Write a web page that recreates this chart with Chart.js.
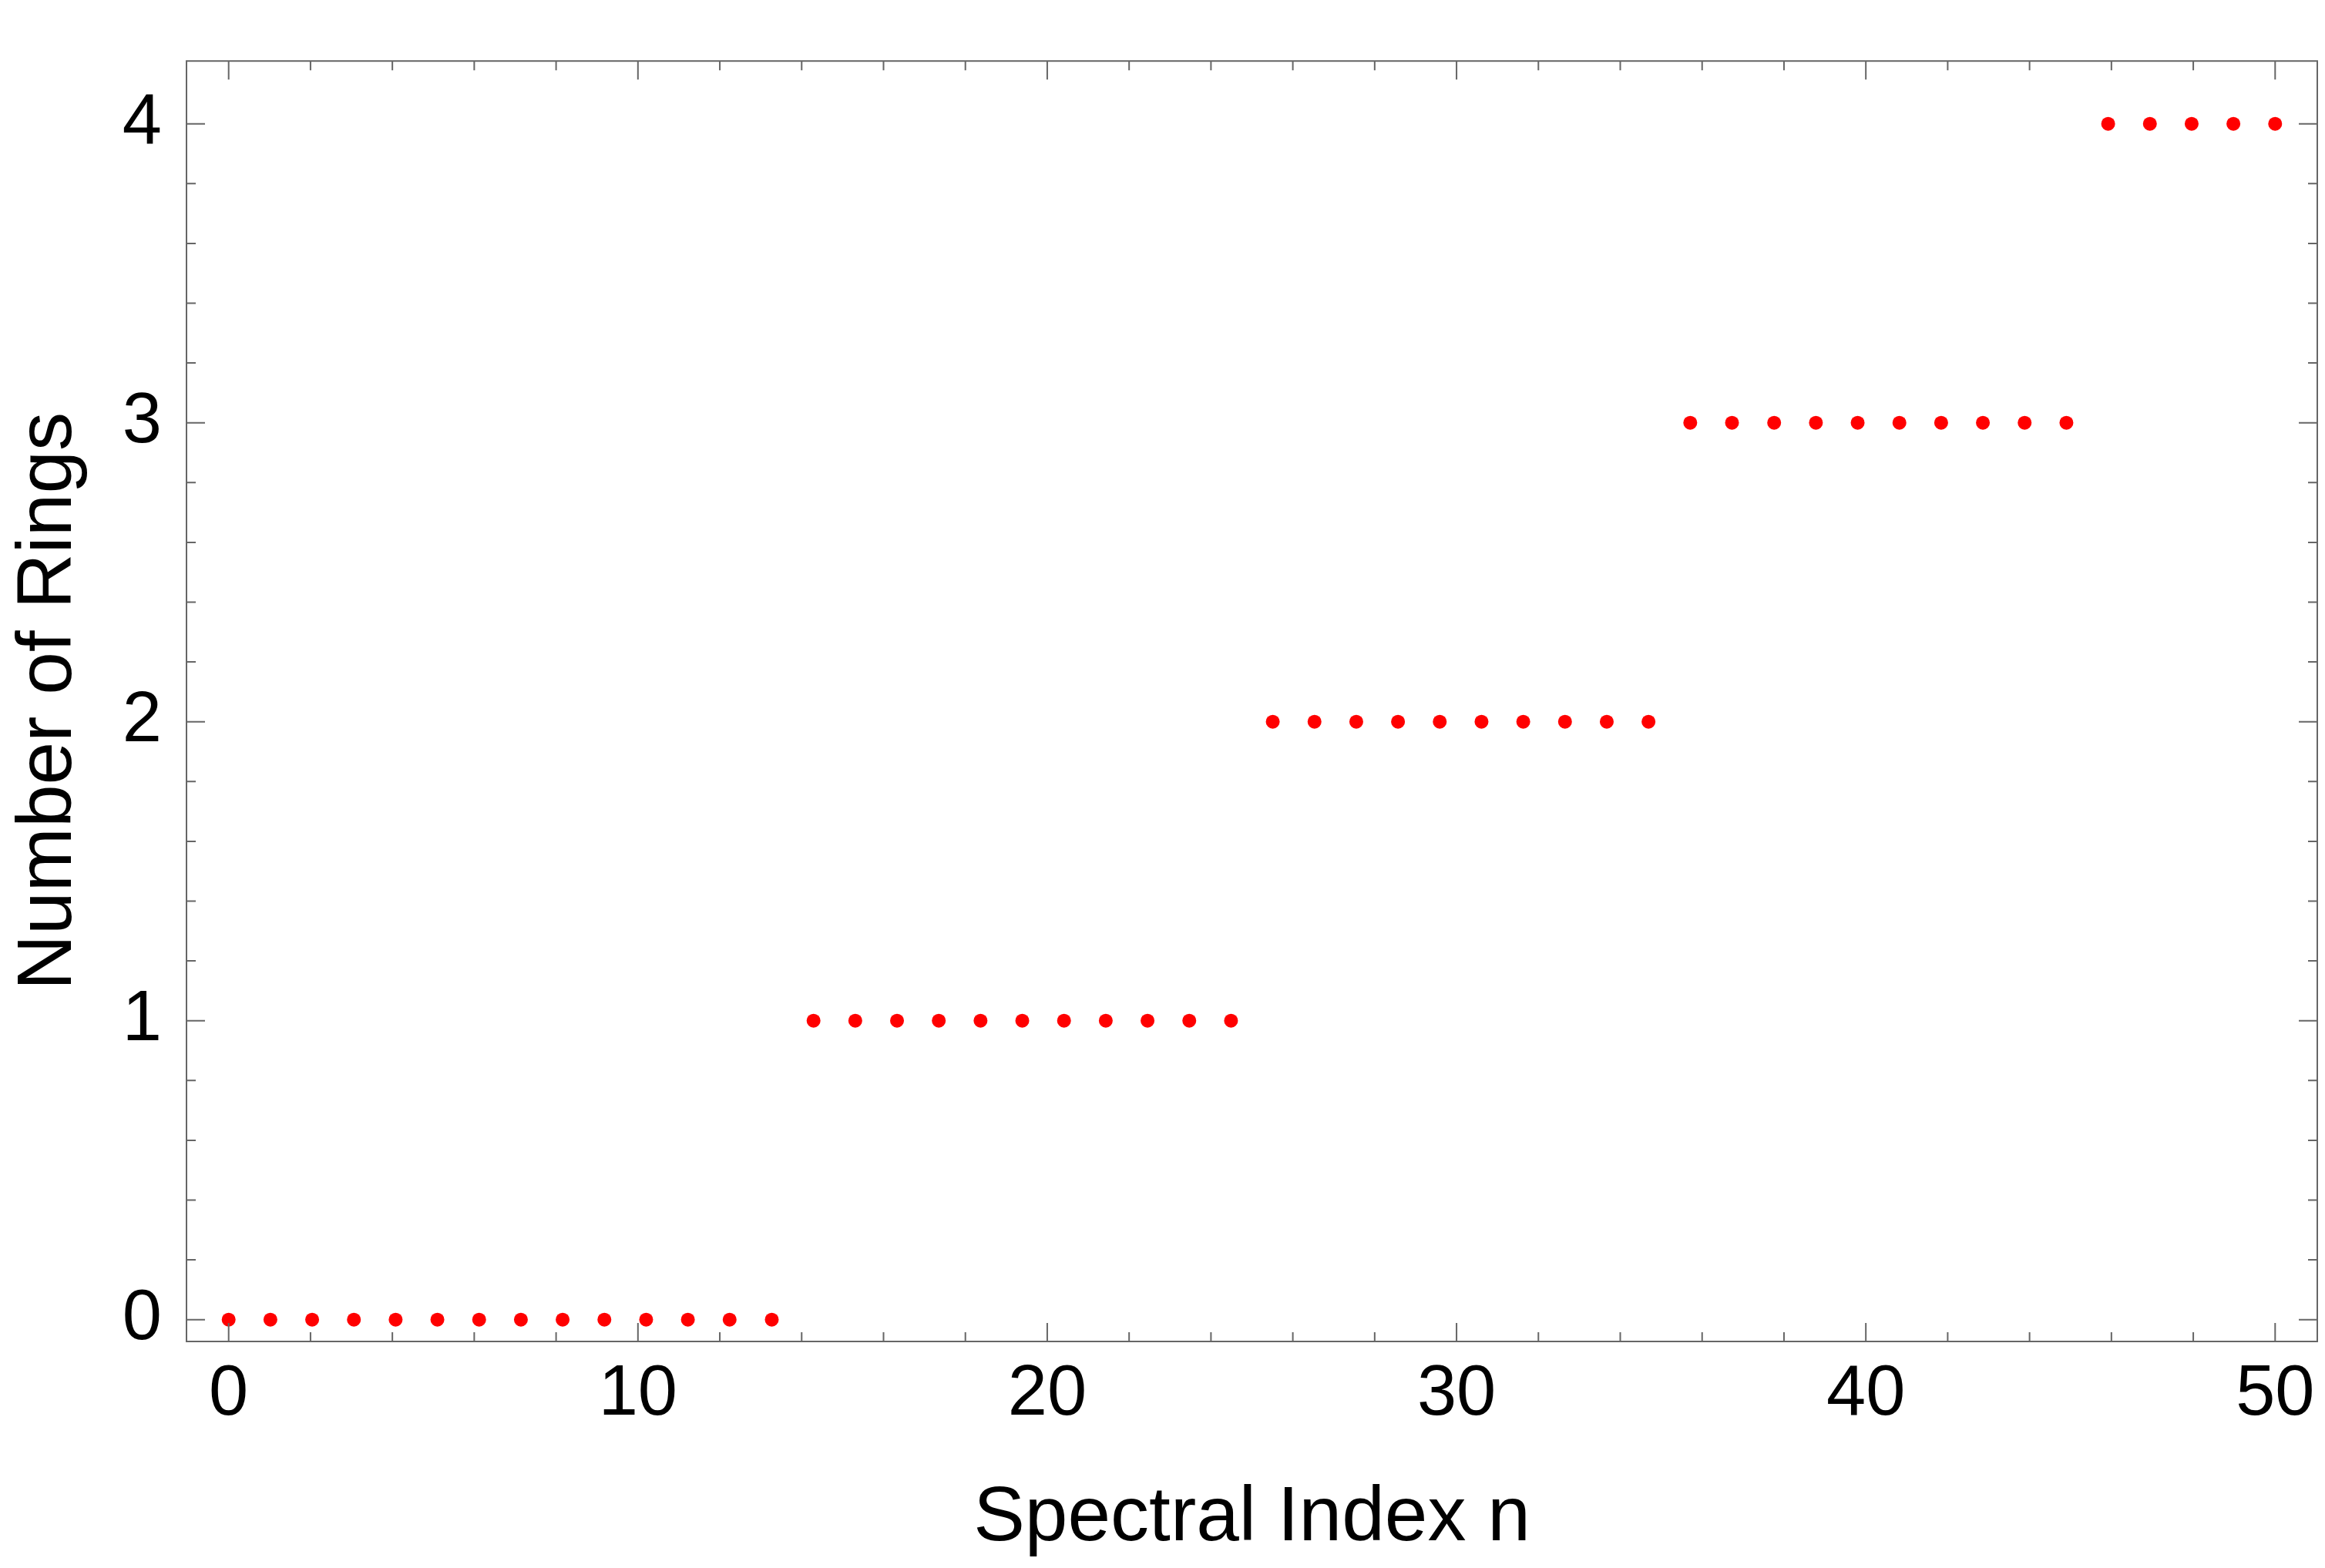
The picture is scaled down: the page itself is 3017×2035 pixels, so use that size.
<!DOCTYPE html>
<html>
<head>
<style>
  html, body { margin: 0; padding: 0; background: #fff; }
  #wrap { width: 3017px; height: 2035px; }
</style>
</head>
<body>
<div id="wrap"><canvas id="myChart"></canvas></div>
<script src="https://cdn.jsdelivr.net/npm/chart.js"></script>
<script>
// spectral index positions (50 samples spanning 0..50)
const xValues = [0, 1.02, 2.04, 3.06, 4.08, 5.10, 6.12, 7.14, 8.16, 9.18,
  10.20, 11.22, 12.24, 13.27, 14.29, 15.31, 16.33, 17.35, 18.37, 19.39,
  20.41, 21.43, 22.45, 23.47, 24.49, 25.51, 26.53, 27.55, 28.57, 29.59,
  30.61, 31.63, 32.65, 33.67, 34.69, 35.71, 36.73, 37.76, 38.78, 39.80,
  40.82, 41.84, 42.86, 43.88, 44.90, 45.92, 46.94, 47.96, 48.98, 50];
const rings = [0,0,0,0,0,0,0,0,0,0,0,0,0,0,
  1,1,1,1,1,1,1,1,1,1,1,
  2,2,2,2,2,2,2,2,2,2,
  3,3,3,3,3,3,3,3,3,3,
  4,4,4,4,4];
const xTicks = [0, 10, 20, 30, 40, 50];
const yTicks = [0, 1, 2, 3, 4];

const font = "'Liberation Sans', Arial, sans-serif";

const frame = {
  id: 'frame',
  afterDraw(chart) {
    const c = chart.ctx, a = chart.chartArea;
    const xs = chart.scales.x, ys = chart.scales.y;
    c.save();
    c.strokeStyle = '#666';
    c.lineWidth = 2;
    c.strokeRect(a.left, a.top, a.right - a.left, a.bottom - a.top);
    c.beginPath();
    for (let v = 0; v <= 50; v += 2) {
      const p = xs.getPixelForValue(v);
      const len = v % 10 === 0 ? 24 : 12;
      c.moveTo(p, a.bottom); c.lineTo(p, a.bottom - len);
      c.moveTo(p, a.top); c.lineTo(p, a.top + len);
    }
    for (let i = 0; i <= 20; i++) {
      const v = i / 5;
      const p = ys.getPixelForValue(v);
      const len = i % 5 === 0 ? 24 : 12;
      c.moveTo(a.left, p); c.lineTo(a.left + len, p);
      c.moveTo(a.right, p); c.lineTo(a.right - len, p);
    }
    c.stroke();
    c.restore();
  }
};

new Chart(document.getElementById('myChart'), {
  type: 'scatter',
  data: {
    datasets: [{
      data: xValues.map((x, i) => ({ x: x, y: rings[i] })),
      backgroundColor: '#ff0000',
      borderWidth: 0,
      pointRadius: 9
    }]
  },
  options: {
    responsive: true,
    maintainAspectRatio: false,
    animation: false,
    layout: { padding: { top: 20, right: 10, left: 0, bottom: 0 } },
    plugins: { legend: { display: false }, tooltip: { enabled: false } },
    scales: {
      x: {
        type: 'linear', min: -1.03, max: 51.03,
        afterBuildTicks: s => { s.ticks = xTicks.map(v => ({ value: v })); },
        afterFit: s => { s.height = 294; },
        grid: { display: false },
        border: { display: false },
        ticks: { color: '#000', font: { family: font, size: 92 }, padding: 6, maxRotation: 0 },
        title: { display: true, text: 'Spectral Index n', color: '#000',
                 font: { family: font, size: 100 }, padding: { top: 0 } }
      },
      y: {
        type: 'linear', min: -0.073, max: 4.21,
        afterBuildTicks: s => { s.ticks = yTicks.map(v => ({ value: v })); },
        afterFit: s => { s.width = 242; },
        grid: { display: false },
        border: { display: false },
        ticks: { color: '#000', font: { family: font, size: 92 }, padding: 24 },
        title: { display: true, text: 'Number of Rings', color: '#000',
                 font: { family: font, size: 100 }, padding: { bottom: 0 } }
      }
    }
  },
  plugins: [frame]
});
</script>
</body>
</html>
